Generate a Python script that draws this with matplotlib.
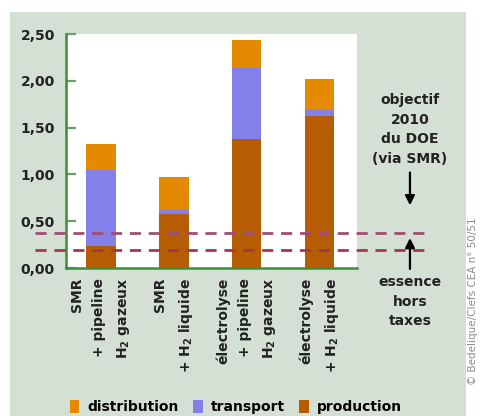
import matplotlib
matplotlib.use("Agg")
import matplotlib.pyplot as plt
from matplotlib.patches import Rectangle, Patch
import numpy as np

# Hydrogen cost breakdown (€/kg-equivalent) by production / delivery route
categories = [
    "SMR\n+ pipeline\nH$_2$ gazeux",
    "SMR\n+ H$_2$ liquide",
    "électrolyse\n+ pipeline\nH$_2$ gazeux",
    "électrolyse\n+ H$_2$ liquide",
]
production = [0.24, 0.58, 1.38, 1.62]
transport = [0.81, 0.05, 0.76, 0.07]
distribution = [0.28, 0.34, 0.30, 0.33]

objectif_doe = 0.37       # objectif 2010 du DOE (via SMR)
essence_hors_taxes = 0.19  # essence hors taxes

yticks = [0.0, 0.5, 1.0, 1.5, 2.0, 2.5]
ytick_labels = ["0,00", "0,50", "1,00", "1,50", "2,00", "2,50"]

c_dist = "#e38a00"
c_trans = "#8480ea"
c_prod = "#b65c02"
panel_bg = "#d5e0d5"
green = "#3f8c3f"

plt.rcParams["font.family"] = ["DejaVu Sans"]
plt.rcParams["font.weight"] = "bold"
plt.rcParams["mathtext.default"] = "bf"

W, H = 481, 416
fig = plt.figure(figsize=(W / 100, H / 100), dpi=100)
fig.patch.set_facecolor("white")

# shaded panel behind the chart
fig.add_artist(Rectangle((10 / W, 0), (466 - 10) / W, (H - 12) / H,
                         transform=fig.transFigure, facecolor=panel_bg,
                         edgecolor="none", zorder=0))

ax = fig.add_axes([66 / W, (H - 268) / H, (357 - 66) / W, (268 - 34) / H])
ax.set_facecolor("white")

x = np.arange(len(categories))
bw = 0.40
prod = np.array(production)
trans = np.array(transport)
dist = np.array(distribution)
ax.bar(x, prod, bw, color=c_prod, zorder=2)
ax.bar(x, trans, bw, bottom=prod, color=c_trans, zorder=2)
ax.bar(x, dist, bw, bottom=prod + trans, color=c_dist, zorder=2)

ax.set_xlim(-0.48, 3.51)
ax.set_ylim(0, 2.5)
ax.set_yticks(yticks)
ax.set_yticklabels(ytick_labels, fontsize=10, fontweight="bold", color="#222222")
ax.set_xticks(x)
ax.set_xticklabels(categories, rotation=90, fontsize=10, fontweight="bold",
                   ha="center", va="top", multialignment="right",
                   linespacing=1.75, color="#222222")
ax.tick_params(axis="x", length=0, pad=7)
ax.tick_params(axis="y", direction="in", length=7, width=1.6,
               color="#6aa06a", pad=8)
for s in ("top", "right"):
    ax.spines[s].set_visible(False)
for s in ("left", "bottom"):
    ax.spines[s].set_color(green)
    ax.spines[s].set_linewidth(1.8)

# reference levels, running past the axes on both sides
ytr = ax.get_yaxis_transform()
ax.plot([-0.107, 1.24], [objectif_doe] * 2, transform=ytr, clip_on=False,
        color="#9e4f74", lw=2.0, dashes=(4, 2.8), zorder=3)
ax.plot([-0.107, 1.24], [essence_hors_taxes] * 2, transform=ytr, clip_on=False,
        color="#a3384a", lw=2.0, dashes=(4, 2.8), zorder=3)

xa = 1.182
ax.annotate("", xy=(xa, 0.64), xytext=(xa, 1.05), xycoords=ytr, textcoords=ytr,
            arrowprops=dict(arrowstyle="-|>", color="black", lw=1.6,
                            mutation_scale=14), annotation_clip=False)
ax.annotate("", xy=(xa, 0.35), xytext=(xa, -0.04), xycoords=ytr, textcoords=ytr,
            arrowprops=dict(arrowstyle="-|>", color="black", lw=1.6,
                            mutation_scale=14), annotation_clip=False)

ax.text(xa, 1.09, "objectif\n2010\ndu DOE\n(via SMR)", transform=ytr,
        ha="center", va="bottom", fontsize=10, fontweight="bold",
        linespacing=1.5, color="#222222")
ax.text(xa, -0.08, "essence\nhors\ntaxes", transform=ytr,
        ha="center", va="top", fontsize=10, fontweight="bold",
        linespacing=1.5, color="#222222")

handles = [Patch(facecolor=c_dist, label="distribution"),
           Patch(facecolor=c_trans, label="transport"),
           Patch(facecolor=c_prod, label="production")]
fig.legend(handles=handles, loc="center", bbox_to_anchor=(236 / W, 1 - 407 / H),
           ncol=3, frameon=False, handlelength=0.7,
           handleheight=1.1, handletextpad=0.6, columnspacing=1.0,
           prop={"weight": "bold", "size": 10})

fig.text(473 / W, 1 - 217 / H, "© Bedelique/Clefs CEA n° 50/51", rotation=90,
         ha="center", va="top", fontsize=7.5, fontweight="normal",
         color="#8a8a8a")

fig.savefig("out.png", dpi=100, facecolor=fig.get_facecolor())
